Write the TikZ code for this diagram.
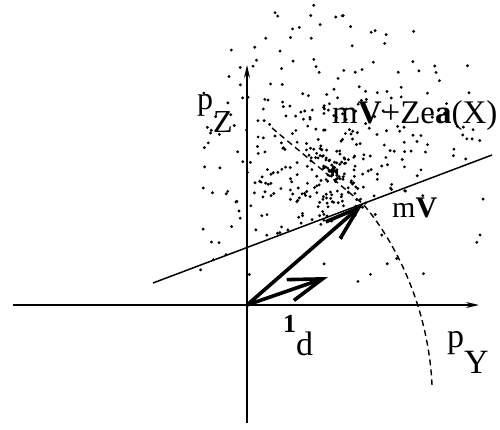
\documentclass[tikz,border=0pt]{standalone}
\usepackage{fontspec}
\setmainfont{Liberation Serif}
\usetikzlibrary{arrows.meta}
\begin{document}
\begin{tikzpicture}[x=1pt,y=-1pt,
  axisline/.style={line width=1.8pt,-{Stealth[length=13pt,width=6pt]}},
  vecarrow/.style={line width=3.6pt,line cap=round,-{Straight Barb[length=34pt,width=22pt,line width=3.6pt]}},
  cutline/.style={line width=1.5pt},
  dashline/.style={line width=1.4pt,dash pattern=on 6pt off 4pt},
  lab/.style={inner sep=0pt,anchor=base west},
  dot/.style={fill=black}]
\useasboundingbox (0,0) rectangle (500,430);
% named points
\coordinate (O) at (247,305);
\coordinate (mV) at (363,204);
\coordinate (ld) at (328,277);
\coordinate (xl) at (13,305);
\coordinate (xr) at (479,305);
\coordinate (yb) at (247,423);
\coordinate (yt) at (247,65);
\coordinate (L1) at (153,283);
\coordinate (L2) at (492,155);
\coordinate (D1) at (272,128);
\coordinate (D2) at (432,385);
\coordinate (C) at (333,171);
% dot cloud
\pgfmathsetseed{777}
\foreach \i in {1,...,520}{
  \pgfmathsetmacro\rr{170*rnd^1.15}
  \pgfmathsetmacro\aa{360*rnd}
  \pgfmathsetmacro\px{333+1.05*\rr*cos(\aa)}
  \pgfmathsetmacro\py{171+\rr*sin(\aa)}
  \pgfmathtruncatemacro\keep{((\py < 283-0.376*(\px-153)) || (rnd < 0.25)) && (\py < 292) && (\px > 200) && (\px < 490) && (\py > 4)}
  \ifnum\keep=1
    \fill[dot] (\px,\py) circle (1.6pt);
  \fi
}
% axes
\draw[axisline] (xl) -- (xr);
\draw[axisline] (yb) -- (yt);
% straight line
\draw[cutline] (L1) -- (L2);
% dashed line and curve
\draw[dashline] (D1) -- (mV) .. controls (390,235) and (428,300) .. (D2);
% centre cross
\draw[line width=1.3pt] ([xshift=-5pt]C) -- ([xshift=5pt]C) ([yshift=-5pt]C) -- ([yshift=5pt]C);
% vectors
\draw[vecarrow] (O) -- (mV);
\draw[vecarrow] (O) -- (ld);
% labels
\node[lab,font=\fontsize{32}{32}\selectfont] (pZ) at (197,110) {p\raisebox{-23pt}{Z}};
\node[lab,font=\fontsize{34}{34}\selectfont] (pY) at (447,347) {p\raisebox{-26pt}{Y}};
\node[lab] (one) at (283,332) {\fontsize{26}{26}\selectfont\bfseries 1\fontsize{34}{34}\selectfont\mdseries\raisebox{-23pt}{d}};
\node[lab,font=\fontsize{33}{33}\selectfont] (top) at (332,124) {m\textbf{V}+Ze\textbf{a}(X)};
\node[lab,font=\fontsize{30}{30}\selectfont] (mVl) at (392,218) {m\textbf{V}};
\end{tikzpicture}
\end{document}
